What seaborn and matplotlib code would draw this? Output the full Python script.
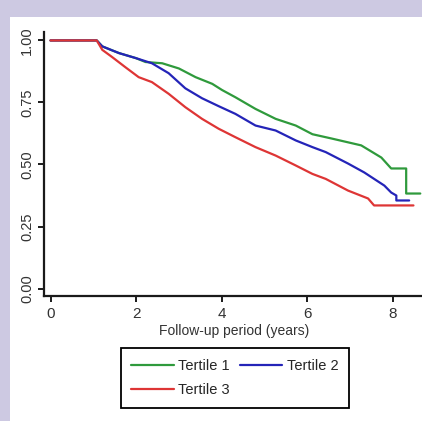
import numpy as np
import pandas as pd
import seaborn as sns
import matplotlib
matplotlib.use("Agg")
import matplotlib.pyplot as plt
from matplotlib.patches import Rectangle

# ---- data ----
t1 = [0, 1.08, 1.21, 1.6, 1.99, 2.22, 2.61, 3.0, 3.39, 3.78, 4.01, 4.32, 4.79, 5.26,
      5.73, 6.12, 6.56, 7.26, 7.73, 7.96, 8.31, 8.31, 8.64]
s1 = [1.0, 1.0, 0.976, 0.949, 0.929, 0.913, 0.908, 0.887, 0.852, 0.825, 0.80, 0.771,
      0.724, 0.684, 0.657, 0.622, 0.605, 0.577, 0.528, 0.484, 0.484, 0.383, 0.383]

t2 = [0, 1.08, 1.21, 1.6, 1.99, 2.37, 2.76, 3.15, 3.54, 3.93, 4.32, 4.79, 5.26, 5.73,
      6.12, 6.43, 6.95, 7.33, 7.8, 7.96, 8.08, 8.08, 8.38]
s2 = [1.0, 1.0, 0.976, 0.949, 0.929, 0.908, 0.868, 0.807, 0.767, 0.735, 0.704, 0.657,
      0.637, 0.597, 0.57, 0.55, 0.504, 0.468, 0.415, 0.387, 0.375, 0.355, 0.355]

t3 = [0, 1.08, 1.21, 1.44, 1.75, 2.06, 2.37, 2.76, 3.15, 3.54, 3.93, 4.32, 4.79, 5.26,
      5.73, 6.12, 6.43, 6.95, 7.42, 7.56, 8.48]
s3 = [1.0, 1.0, 0.962, 0.933, 0.892, 0.852, 0.832, 0.785, 0.731, 0.684, 0.644, 0.61,
      0.57, 0.536, 0.496, 0.462, 0.442, 0.395, 0.363, 0.335, 0.335]

series_names = ["Tertile 1", "Tertile 2", "Tertile 3"]
series_colors = ["#2f9a3c", "#2424b8", "#de3535"]
x_ticks = [0, 2, 4, 6, 8]
y_ticks = [0.0, 0.25, 0.5, 0.75, 1.0]
y_ticklabels = ["0.00", "0.25", "0.50", "0.75", "1.00"]
x_label = "Follow-up period (years)"

# ---- style ----
sns.set_style("ticks")
plt.rcParams["font.family"] = ["Liberation Sans", "DejaVu Sans"]

W, H = 422, 421
fig = plt.figure(figsize=(W / 100, H / 100), dpi=100)
fig.patch.set_facecolor("#cdc9e2")
fig.add_artist(Rectangle((10 / W, 0), 1, 1 - 17 / H, transform=fig.transFigure,
                         facecolor="white", edgecolor="none", zorder=0))

px_per_x = 42.8
xlim = (-0.152, 8.7)
ax_left = 44
ax_w = (xlim[1] - xlim[0]) * px_per_x
ax_top, ax_bot = 32, 296
ax = fig.add_axes([ax_left / W, (H - ax_bot) / H, ax_w / W, (ax_bot - ax_top) / H])
ax.set_facecolor("white")

frames = [(t1, s1), (t2, s2), (t3, s3)]
for (tt, ss), name, col in zip(frames, series_names, series_colors):
    df = pd.DataFrame({"t": tt, "s": ss})
    sns.lineplot(data=df, x="t", y="s", ax=ax, estimator=None, sort=False,
                 color=col, linewidth=1.6, label=name)

ax.set_xlim(*xlim)
ax.set_ylim(-0.030, 1.034)
ax.set_xticks(x_ticks)
ax.set_yticks(y_ticks)
ax.set_yticklabels(y_ticklabels)
sns.despine(ax=ax)
for sp in ["left", "bottom"]:
    ax.spines[sp].set_linewidth(1.6)
    ax.spines[sp].set_color("#1a1a1a")
ax.tick_params(axis="both", direction="out", length=4, width=1.4, color="#1a1a1a",
               labelcolor="#333333")
ax.tick_params(axis="x", labelsize=11, pad=4)
ax.tick_params(axis="y", labelsize=10.5, labelrotation=90, pad=3)
for lab in ax.get_yticklabels():
    lab.set_va("center")

ax.set_xlabel(x_label, fontsize=10, color="#333333")
ax.set_ylabel("")
ax.xaxis.set_label_coords((234 - ax_left) / ax_w, (ax_bot - 324) / (ax_bot - ax_top))

handles, labels = ax.get_legend_handles_labels()
ax.get_legend().remove()
order = [0, 2, 1]
leg = fig.legend([handles[i] for i in order], [labels[i] for i in order], ncol=2,
                 loc="upper left", bbox_to_anchor=(120.5 / W, 1 - 348 / H),
                 frameon=True, fancybox=False, edgecolor="black", framealpha=1,
                 fontsize=10.5, handlelength=2.9, handletextpad=0.3, columnspacing=0.7,
                 borderpad=0.75, labelspacing=0.7, borderaxespad=0)
leg.get_frame().set_linewidth(1.3)
for lh in leg.get_lines():
    lh.set_linewidth(1.6)

fig.savefig("out.png", dpi=100, facecolor=fig.get_facecolor())
